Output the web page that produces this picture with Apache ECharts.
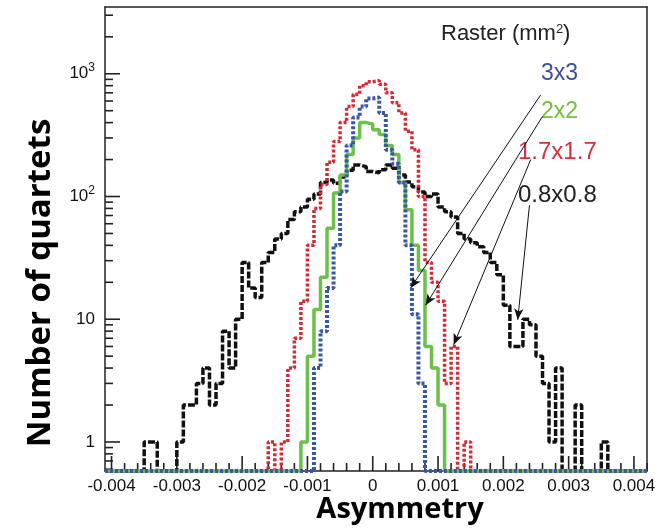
<!DOCTYPE html>
<html>
<head>
<meta charset="utf-8">
<script src="https://cdn.jsdelivr.net/npm/echarts@6/dist/echarts.min.js"></script>
<style>
html,body{margin:0;padding:0;background:#fff;}
#main{width:662px;height:528px;}
</style>
</head>
<body>
<div id="main"></div>
<script>
// histogram binning (lower edge of first bin, bin width)
var binLow = -0.0041;
var binWidth = 0.0001;
var xMin = -0.0041, xMax = 0.0042;
var yMin = 0.58, yMax = 3500;

// counts per bin, from -0.0041 upward
var counts08 = [0,0,0,0,0,0,1,1,0,0, 0,1,2,2,3,4,2,3,8,4, 10,29,18,15,29,35,45,50,65,75,
	82,95,105,130,136,128,144,164,181,175, 160,156,165,181,170,150,131,120,109,100,
	105,82,75,68,50,45,42,39,35,29, 23,13,6,6,10,9,5,3,1,4, 0,0,2,0,0,0,1,0,0,0, 0,0,0];
var counts17 = [0,0,0,0,0,0,0,0,0,0, 0,0,0,0,0,0,0,0,0,0, 0,0,0,0,0,1,0,1,4,7,
	14,40,80,125,190,280,400,540,680,800, 860,880,820,700,580,480,340,240,100,29,
	20,14,3,6,0,1,0,0,0,0, 0,0,0,0,0,0,0,0,0,0, 0,0,0,0,0,0,0,0,0,0, 0,0,0];
var counts2 = [0,0,0,0,0,0,0,0,0,0, 0,0,0,0,0,0,0,0,0,0, 0,0,0,0,0,0,0,0,0,0,
	1,5,12,22,55,107,150,220,300,400, 390,350,320,260,220,130,78,40,25,6,
	4,2,0,0,0,0,0,0,0,0, 0,0,0,0,0,0,0,0,0,0, 0,0,0,0,0,0,0,0,0,0, 0,0,0];
var counts3 = [0,0,0,0,0,0,0,0,0,0, 0,0,0,0,0,0,0,0,0,0, 0,0,0,0,0,0,0,0,0,0,
	0,0,4,8,18,40,110,260,440,540, 630,640,480,240,185,130,40,11,3,0,
	0,0,0,0,0,0,0,0,0,0, 0,0,0,0,0,0,0,0,0,0, 0,0,0,0,0,0,0,0,0,0, 0,0,0];

var rasterNames = ['0.8x0.8', '1.7x1.7', '2x2', '3x3'];

// tick values
var xMajorTicks = [-0.004,-0.003,-0.002,-0.001,0,0.001,0.002,0.003,0.004];
var yMajorTicks = [1,10,100,1000];
var yMinorTicks = [0.6,0.7,0.8,0.9, 2,3,4,5,6,7,8,9, 20,30,40,50,60,70,80,90,
	200,300,400,500,600,700,800,900, 2000,3000];

// arrows: [label end (x,y), tip on curve (x,y)]
var arrow3 = [[0.00257,670],[0.00058,18]];
var arrow2 = [[0.00260,450],[0.00081,13]];
var arrow17 = [[0.00242,200],[0.00124,6.2]];
var arrow08 = [[0.00240,85],[0.00222,9.9]];

var xMinorTicks = [];
for (var t = -0.004; t <= 0.00421; t += 0.0002) {
	xMinorTicks.push(+t.toFixed(4));
}

function histPoints(counts){
	var pts = [];
	for (var i = 0; i < counts.length; i++) {
		pts.push([+(binLow + i*binWidth).toFixed(5), counts[i] > 0 ? counts[i] : yMin]);
	}
	var last = counts[counts.length-1];
	pts.push([+(binLow + counts.length*binWidth).toFixed(5), last > 0 ? last : yMin]);
	return pts;
}

function arrowLine(a){
	return {
		silent: true,
		symbol: ['none','arrow'],
		symbolSize: [7,11],
		lineStyle: {color:'#111', width:1, type:'solid'},
		label: {show:false},
		emphasis: {disabled:true},
		data: [[{coord:a[0]},{coord:a[1]}]]
	};
}

// tick marks as [x, y, kind]: 0 x major, 1 x minor, 2 y major, 3 y minor
var tickData = [];
for (var i = 0; i < xMinorTicks.length; i++) {
	var isMajor = xMajorTicks.indexOf(xMinorTicks[i]) >= 0;
	tickData.push([xMinorTicks[i], yMin, isMajor ? 0 : 1]);
}
for (var j = 0; j < yMajorTicks.length; j++) tickData.push([xMin, yMajorTicks[j], 2]);
for (var k = 0; k < yMinorTicks.length; k++) tickData.push([xMin, yMinorTicks[k], 3]);

var tickFont = "'Liberation Sans',Arial,sans-serif";
var noteFont = "'Liberation Sans',Arial,sans-serif";

// axis that only draws a frame side
function frameAxis(type, pos){
	return {
		type: type, min: type === 'log' ? yMin : xMin, max: type === 'log' ? yMax : xMax, position: pos,
		axisLine: {show:true, onZero:false, lineStyle:{color:'#222', width:1.5}},
		axisTick: {show:false}, axisLabel: {show:false}, splitLine: {show:false}
	};
}

var chart = echarts.init(document.getElementById('main'));
var option = {
	animation: false,
	grid: {
		left: 105, top: 7, width: 542, height: 464,
		outerBoundsMode: 'none'
	},
	xAxis: [
		{
			type: 'value', min: xMin, max: xMax, position: 'bottom',
			axisLine: {show:true, onZero:false, lineStyle:{color:'#222', width:1.5}},
			axisTick: {show:false},
			axisLabel: {
				customValues: xMajorTicks, margin: 7, color:'#111', fontSize: 17, fontFamily: tickFont,
				formatter: function(v){ return String(+(+v).toFixed(4)); }
			},
			splitLine: {show:false}
		},
		frameAxis('value', 'top')
	],
	yAxis: [
		{
			type: 'log', min: yMin, max: yMax, position: 'left',
			axisLine: {show:true, onZero:false, lineStyle:{color:'#222', width:1.5}},
			axisTick: {show:false},
			axisLabel: {
				customValues: yMajorTicks, margin: 10, color:'#111', fontSize: 17, fontFamily: tickFont,
				formatter: function(v){
					if (v >= 100) return '10{sup|' + Math.round(Math.log(v)/Math.LN10) + '}';
					return String(v);
				},
				rich: {
					sup: {fontSize: 12, fontFamily: tickFont, color:'#111', verticalAlign:'top', padding:[0,0,12,0]}
				}
			},
			splitLine: {show:false}
		},
		frameAxis('log', 'right')
	],
	series: [
		{
			name: rasterNames[0], type: 'line', step: 'end', symbol: 'none', clip: false,
			data: histPoints(counts08),
			lineStyle: {color:'#111', width:3.5, type:[7,2], cap:'butt'},
			markLine: arrowLine(arrow08)
		},
		{
			name: rasterNames[1], type: 'line', step: 'end', symbol: 'none', clip: false,
			data: histPoints(counts17),
			lineStyle: {color:'#d42a36', width:3.5, type:[3,2], cap:'butt'},
			markLine: arrowLine(arrow17)
		},
		{
			name: rasterNames[2], type: 'line', step: 'end', symbol: 'none', clip: false,
			data: histPoints(counts2),
			lineStyle: {color:'#6cc04a', width:3.5, type:'solid', cap:'butt'},
			markLine: arrowLine(arrow2)
		},
		{
			name: rasterNames[3], type: 'line', step: 'end', symbol: 'none', clip: false,
			data: histPoints(counts3),
			lineStyle: {color:'#3858a4', width:4, type:[3,2], cap:'butt'},
			markLine: arrowLine(arrow3)
		},
		{
			// axis tick marks, placed through the axes' own scales
			name: 'ticks', type: 'custom', coordinateSystem: 'cartesian2d',
			silent: true, clip: false, z: 1,
			encode: {x: 0, y: 1},
			data: tickData,
			renderItem: function(params, api){
				var p = api.coord([api.value(0), api.value(1)]);
				var kind = api.value(2);
				var len = (kind === 0 || kind === 2) ? 15 : 8;
				var shape = kind < 2
					? {x1: p[0], y1: p[1], x2: p[0], y2: p[1] - len}
					: {x1: p[0], y1: p[1], x2: p[0] + len, y2: p[1]};
				return {type: 'line', shape: shape, style: {stroke: '#222', lineWidth: 1.6}};
			}
		}
	],
	graphic: [
		{type:'text', x:441, y:34, style:{text:'Raster (mm{sup|2})', fill:'#222', font:"22px " + noteFont, textVerticalAlign:'middle',
			rich:{sup:{fontSize:13, fill:'#222', verticalAlign:'top', padding:[0,0,10,0]}}}},
		{type:'text', x:541, y:74, style:{text:rasterNames[3], fill:'#3b4f9c', font:"23px " + noteFont, textVerticalAlign:'middle'}},
		{type:'text', x:541, y:112, style:{text:rasterNames[2], fill:'#76bd3c', font:"23px " + noteFont, textVerticalAlign:'middle'}},
		{type:'text', x:518, y:152, style:{text:rasterNames[1], fill:'#d4303c', font:"24px " + noteFont, textVerticalAlign:'middle'}},
		{type:'text', x:518, y:195, style:{text:rasterNames[0], fill:'#222', font:"24px " + noteFont, textVerticalAlign:'middle'}},
		{type:'text', x:41, y:283, rotation:Math.PI/2, style:{text:'Number of quartets', fill:'#000', font:"bold 33px 'Open Sans',sans-serif", textAlign:'center', textVerticalAlign:'middle'}},
		{type:'text', x:400, y:510, style:{text:'Asymmetry', fill:'#000', font:"bold 29px 'Open Sans',sans-serif", textAlign:'center', textVerticalAlign:'middle'}}
	]
};
chart.setOption(option);
</script>
</body>
</html>
